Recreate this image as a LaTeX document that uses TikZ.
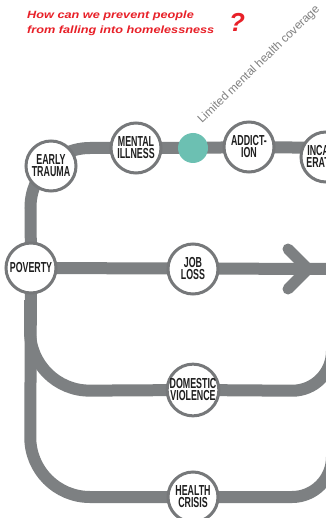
\documentclass[tikz,border=0pt]{standalone}
\usepackage{fontspec}
\setmainfont{Liberation Sans}
\newfontfamily\condfont[FakeStretch=0.61]{Liberation Sans}
\newfontfamily\titlefont[FakeStretch=1.21]{Liberation Sans}
\usetikzlibrary{backgrounds}
\definecolor{trackgray}{RGB}{125,128,130}
\definecolor{ringgray}{RGB}{118,120,122}
\definecolor{tealdot}{RGB}{108,192,178}
\definecolor{titlered}{RGB}{232,32,40}
\definecolor{labelgray}{RGB}{128,128,128}
\definecolor{nodetext}{RGB}{30,30,30}
\begin{document}
\begin{tikzpicture}[x=1pt,y=-1pt,
  track/.style={draw=trackgray, line width=12pt},
  stopnode/.style={circle, draw=ringgray, line width=3pt, fill=white,
    minimum size=50pt, inner sep=0pt, align=center, text=nodetext,
    font=\condfont\bfseries\fontsize{14.5}{12}\selectfont},
  titletext/.style={anchor=base west, inner sep=0pt, text=titlered,
    font=\titlefont\bfseries\itshape\fontsize{10.5}{12}\selectfont}]
\useasboundingbox (0,0) rectangle (325,518);

% title
\node[titletext] (title1) at (27,19) {How can we prevent people};
\node[titletext] (title2) at (27,34) {from falling into homelessness};
\node[anchor=base, inner sep=0pt, text=titlered,
  font=\bfseries\itshape\fontsize{26}{26}\selectfont] (qmark) at (237,32) {?};

% rotated label
\node[anchor=base west, rotate=44, inner sep=0pt, text=labelgray,
  font=\fontsize{11.8}{11.8}\selectfont] (coverage) at (202,124) {Limited mental health coverage};

% stops
\node[stopnode] (trauma) at (51,166) {EARLY\\TRAUMA};
\node[stopnode] (mental) at (136,148) {MENTAL\\ILLNESS};
\node[circle, fill=tealdot, minimum size=30pt, inner sep=0pt] (teal) at (193,148) {};
\node[stopnode] (addict) at (249,147) {ADDICT-\\ION};
\node[stopnode] (incarc) at (326,157) {INCARC-\\ERATION};
\node[stopnode] (poverty) at (31,268) {POVERTY};
\node[stopnode] (job) at (193,269) {JOB\\LOSS};
\node[stopnode] (domestic) at (193,390) {DOMESTIC\\VIOLENCE};
\node[stopnode] (health) at (193,497) {HEALTH\\CRISIS};

\coordinate (topcorner) at (30,148);
\coordinate (topend) at (335,148);
\coordinate (jobend) at (335,269);
\coordinate (chevA) at (288,249);
\coordinate (chevB) at (308,269);
\coordinate (chevC) at (288,289);
\coordinate (branchstart) at (30,300);
\coordinate (domcorner) at (30,391);
\coordinate (domright) at (332,391);
\coordinate (domup) at (332,300);
\coordinate (botcorner) at (30,497);
\coordinate (botright) at (332,497);
\coordinate (botup) at (332,400);

\begin{scope}[on background layer]
  \fill[white] (0,0) rectangle (325,518);
  \draw[track, rounded corners=60pt] (poverty.center) -- (topcorner) -- (mental.center);
  \draw[track] (mental.center) -- (teal.center) -- (addict.center) -- (topend);
  \draw[track] (poverty.center) -- (jobend);
  \draw[track, line width=11pt, line cap=round, line join=round] (chevA) -- (chevB) -- (chevC);
  \draw[track, rounded corners=60pt] (branchstart) -- (domcorner) -- (domestic.center);
  \draw[track, rounded corners=40pt] (domestic.center) -- (domright) -- (domup);
  \draw[track, rounded corners=60pt] (poverty.center) -- (botcorner) -- (health.center);
  \draw[track, rounded corners=40pt] (health.center) -- (botright) -- (botup);
\end{scope}
\end{tikzpicture}
\end{document}
